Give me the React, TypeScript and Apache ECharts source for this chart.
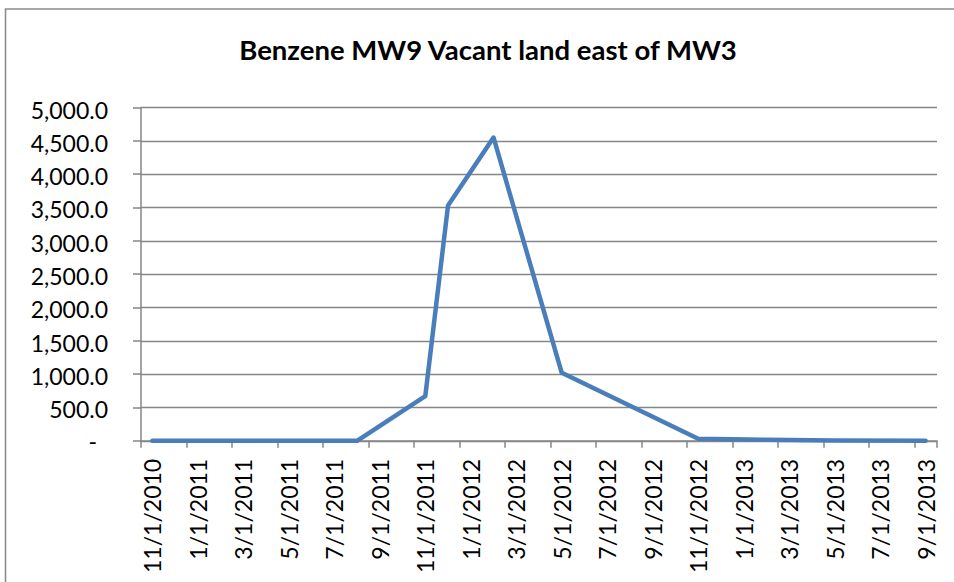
import React, { useEffect, useRef } from "react";
import * as echarts from "echarts";

const titleText = "Benzene MW9 Vacant land east of MW3";

// Monthly categories of the date axis (base unit: month)
const categories = [
  "11/1/2010", "12/1/2010",
  "1/1/2011", "2/1/2011", "3/1/2011", "4/1/2011", "5/1/2011", "6/1/2011",
  "7/1/2011", "8/1/2011", "9/1/2011", "10/1/2011", "11/1/2011", "12/1/2011",
  "1/1/2012", "2/1/2012", "3/1/2012", "4/1/2012", "5/1/2012", "6/1/2012",
  "7/1/2012", "8/1/2012", "9/1/2012", "10/1/2012", "11/1/2012", "12/1/2012",
  "1/1/2013", "2/1/2013", "3/1/2013", "4/1/2013", "5/1/2013", "6/1/2013",
  "7/1/2013", "8/1/2013", "9/1/2013",
];

// Sampling dates and benzene values
const sampleDates = [
  "11/1/2010", "2/1/2011", "5/1/2011", "8/1/2011", "11/1/2011", "12/1/2011",
  "2/1/2012", "5/1/2012", "11/1/2012", "2/1/2013", "5/1/2013", "9/1/2013",
];
const benzene = [0, 0, 0, 0, 670, 3530, 4550, 1020, 30, 15, 6, 2];

const yMin = 0;
const yMax = 5000;
const yStep = 500;

const FONT = "Lato, 'Liberation Sans', sans-serif";

export default function App() {
  const ref = useRef<HTMLDivElement>(null);

  useEffect(() => {
    if (!ref.current) return;
    const chart = echarts.init(ref.current, undefined, { renderer: "svg" });
    const seriesData = categories.map((c) => {
      const i = sampleDates.indexOf(c);
      return i >= 0 ? benzene[i] : null;
    });
    chart.setOption({
      animation: false,
      backgroundColor: "#ffffff",
      graphic: [
        {
          type: "rect",
          shape: { x: 5.5, y: 9, width: 1000, height: 700 },
          style: { fill: "none", stroke: "#8c8c8c", lineWidth: 1.6 },
          silent: true,
        },
        {
          type: "text",
          x: 488,
          y: 49,
          style: {
            text: titleText,
            fill: "#000000",
            font: `bold 27.5px ${FONT}`,
            textAlign: "center",
            textVerticalAlign: "middle",
          },
        },
      ],
      grid: { left: 141, top: 107.5, width: 796, height: 333.3 },
      xAxis: {
        type: "category",
        data: categories,
        boundaryGap: true,
        axisLine: { lineStyle: { color: "#868686", width: 1.5 } },
        axisTick: {
          show: true,
          interval: 1,
          length: 7,
          lineStyle: { color: "#868686", width: 1.5 },
        },
        axisLabel: {
          interval: 1,
          rotate: 90,
          margin: 18,
          color: "#000000",
          fontFamily: FONT,
          fontSize: 23,
        },
        splitLine: { show: false },
      },
      yAxis: {
        type: "value",
        min: yMin,
        max: yMax,
        interval: yStep,
        axisLine: { show: true, lineStyle: { color: "#868686", width: 1.5 } },
        axisTick: {
          show: true,
          length: 8,
          lineStyle: { color: "#868686", width: 1.5 },
        },
        splitLine: { show: true, lineStyle: { color: "#868686", width: 1.4 } },
        axisLabel: {
          margin: 33,
          color: "#000000",
          fontFamily: FONT,
          fontSize: 23,
          formatter: (v: number) =>
            v === 0
              ? "{z|-}"
              : "{n|" +
                v.toLocaleString("en-US", {
                  minimumFractionDigits: 1,
                  maximumFractionDigits: 1,
                }) +
                "}",
          rich: {
            z: {
              fontFamily: FONT,
              fontSize: 23,
              color: "#000000",
              padding: [0, 11, 0, 0],
            },
            n: {
              fontFamily: FONT,
              fontSize: 23,
              color: "#000000",
              padding: [4, 0, 0, 0],
            },
          },
        },
      },
      series: [
        {
          type: "line",
          data: seriesData,
          connectNulls: true,
          showSymbol: false,
          symbol: "none",
          lineStyle: { color: "#4a7ebb", width: 4.5, cap: "round", join: "round" },
          itemStyle: { color: "#4a7ebb" },
        },
      ],
    });
    return () => chart.dispose();
  }, []);

  return (
    <div
      ref={ref}
      style={{ position: "absolute", left: 0, top: 0, width: 954, height: 582 }}
    />
  );
}
